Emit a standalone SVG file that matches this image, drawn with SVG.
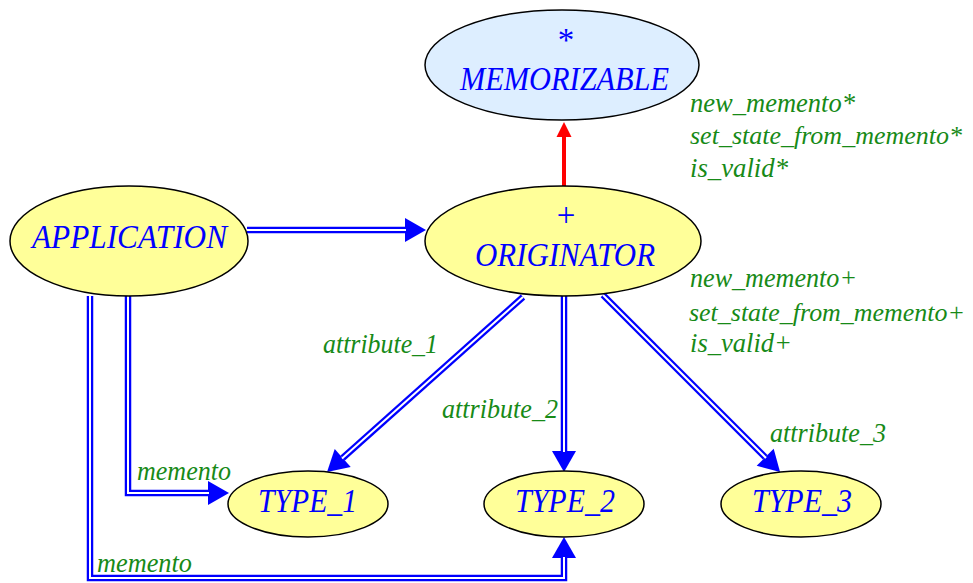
<svg xmlns="http://www.w3.org/2000/svg" width="973" height="583" viewBox="0 0 973 583">
<style>
.node{stroke:#000;stroke-width:1.5}
.cls{fill:#ffff99}
.def{fill:#ddeeff}
.nt{font-family:"Liberation Serif","Times New Roman",serif;font-style:italic;font-size:33px;fill:#0000ff}
.sym{font-family:"Liberation Serif","Times New Roman",serif;font-size:33px;fill:#0000ff;text-anchor:middle}
.lbl{font-family:"Liberation Serif","Times New Roman",serif;font-style:italic;font-size:28px;fill:#178a17}
.long{font-size:26px}
.outer{fill:none;stroke:#0000ff;stroke-width:6.5;stroke-linejoin:miter}
.inner{fill:none;stroke:#ffffff;stroke-width:2;stroke-linejoin:miter}
</style>
<defs>
<marker id="ah" markerUnits="userSpaceOnUse" markerWidth="24" markerHeight="26" refX="0" refY="12" orient="auto" overflow="visible">
<path d="M0,0 L21,12 L0,24 z" fill="#0000ff"/>
</marker>
<marker id="ahr" markerUnits="userSpaceOnUse" markerWidth="16" markerHeight="16" refX="0" refY="7.5" orient="auto" overflow="visible">
<path d="M0,0 L15,7.5 L0,15 z" fill="#ff0000"/>
</marker>
</defs>
<g id="connectors">
<g id="e-app-orig">
<path class="outer" d="M247,230 L405,230" marker-end="url(#ah)"/>
<path class="inner" d="M247,230 L406,230"/>
</g>
<g id="e-app-type1">
<path class="outer" d="M128,296 L128,493 L208,493" marker-end="url(#ah)"/>
<path class="inner" d="M128,296 L128,493 L209,493"/>
</g>
<g id="e-app-type2">
<path class="outer" d="M90,296 L90,578 L564,578 L564,558" marker-end="url(#ah)"/>
<path class="inner" d="M90,296 L90,578 L564,578 L564,557"/>
</g>
<g id="e-orig-type1">
<path class="outer" d="M523,297 L342.7,458" marker-end="url(#ah)"/>
<path class="inner" d="M523,297 L342,458.6"/>
</g>
<g id="e-orig-type2">
<path class="outer" d="M564,296 L564,451" marker-end="url(#ah)"/>
<path class="inner" d="M564,296 L564,452"/>
</g>
<g id="e-orig-type3">
<path class="outer" d="M603,295 L765.2,457.2" marker-end="url(#ah)"/>
<path class="inner" d="M603,295 L766,458"/>
</g>
<g id="e-orig-mem">
<path d="M564,186 L564,137" fill="none" stroke="#ff0000" stroke-width="4" marker-end="url(#ahr)"/>
</g>
<text class="lbl" x="323" y="353" textLength="115" lengthAdjust="spacingAndGlyphs">attribute_1</text>
<text class="lbl" x="442" y="418" textLength="116" lengthAdjust="spacingAndGlyphs">attribute_2</text>
<text class="lbl" x="770" y="442" textLength="116" lengthAdjust="spacingAndGlyphs">attribute_3</text>
<text class="lbl" x="137" y="480" textLength="94" lengthAdjust="spacingAndGlyphs">memento</text>
<text class="lbl" x="97" y="572" textLength="95" lengthAdjust="spacingAndGlyphs">memento</text>
</g>
<g id="memorizable">
<ellipse class="node def" cx="562" cy="65" rx="137" ry="55"/>
<text class="sym" x="566" y="51">*</text>
<text class="nt" x="460" y="90" textLength="209" lengthAdjust="spacingAndGlyphs">MEMORIZABLE</text>
<text class="lbl" x="690" y="112" textLength="165" lengthAdjust="spacingAndGlyphs">new_memento*</text>
<text class="lbl long" x="690" y="144" textLength="272" lengthAdjust="spacingAndGlyphs">set_state_from_memento*</text>
<text class="lbl" x="690" y="177" textLength="98" lengthAdjust="spacingAndGlyphs">is_valid*</text>
</g>
<g id="originator">
<ellipse class="node cls" cx="563" cy="241" rx="138" ry="55"/>
<text class="sym" x="566" y="226">+</text>
<text class="nt" x="475" y="266" textLength="180" lengthAdjust="spacingAndGlyphs">ORIGINATOR</text>
<text class="lbl" x="690" y="287" textLength="167" lengthAdjust="spacingAndGlyphs">new_memento+</text>
<text class="lbl long" x="689" y="321" textLength="276" lengthAdjust="spacingAndGlyphs">set_state_from_memento+</text>
<text class="lbl" x="690" y="352" textLength="102" lengthAdjust="spacingAndGlyphs">is_valid+</text>
</g>
<g id="application">
<ellipse class="node cls" cx="129" cy="241" rx="119" ry="55"/>
<text class="nt" x="32" y="248" textLength="195" lengthAdjust="spacingAndGlyphs">APPLICATION</text>
</g>
<g id="type1">
<ellipse class="node cls" cx="308" cy="504" rx="80" ry="33"/>
<text class="nt" x="258" y="512" textLength="99" lengthAdjust="spacingAndGlyphs">TYPE_1</text>
</g>
<g id="type2">
<ellipse class="node cls" cx="564" cy="504" rx="80" ry="33"/>
<text class="nt" x="515" y="512" textLength="100" lengthAdjust="spacingAndGlyphs">TYPE_2</text>
</g>
<g id="type3">
<ellipse class="node cls" cx="801" cy="504" rx="80" ry="33"/>
<text class="nt" x="752" y="512" textLength="100" lengthAdjust="spacingAndGlyphs">TYPE_3</text>
</g>
</svg>
